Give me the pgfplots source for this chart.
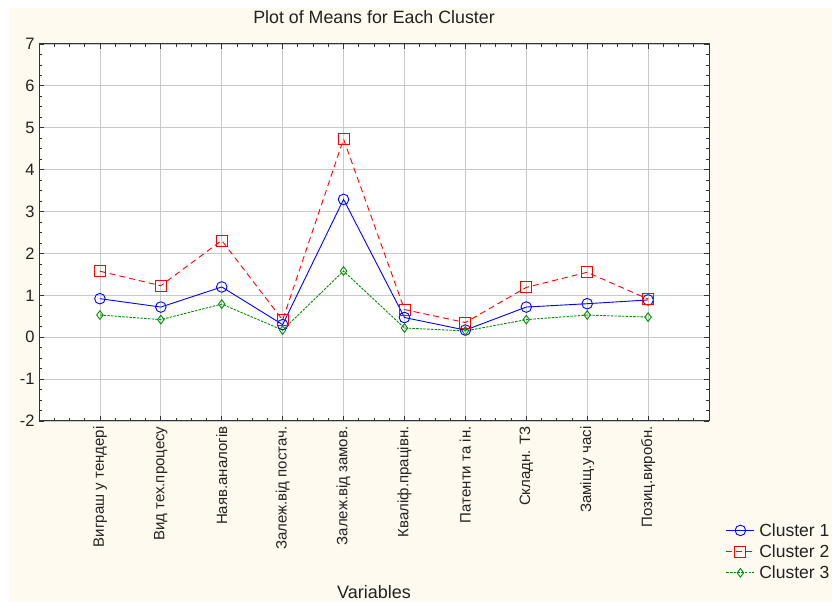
\documentclass[border=0pt]{standalone}
\usepackage{pgfplots}
\pgfplotsset{compat=1.18}
\usepackage{fontspec}
\setmainfont{Liberation Sans}
\definecolor{cream}{RGB}{255,250,240}
\definecolor{txt}{RGB}{34,34,34}
\definecolor{gridc}{RGB}{200,200,200}
\definecolor{cgreen}{RGB}{0,140,0}
\begin{document}
\begin{tikzpicture}[x=1bp,y=1bp]
\path[use as bounding box] (0,0) rectangle (832,603);
\clip (0,0) rectangle (832,603);
\fill[white] (0,0) rectangle (832,603);
\fill[cream] (9,2) rectangle (840,595);
\begin{axis}[
  at={(39bp,182bp)}, anchor=south west,
  scale only axis, width=670bp, height=377bp,
  xmin=0, xmax=11, ymin=-2, ymax=7,
  xtick={1,...,10},
  xticklabels={Виграш у тендері, Вид тех.процесу, Наяв.аналогів, Залеж.від постач., Залеж.від замов., Кваліф.працівн., Патенти та ін., Складн. ТЗ, Заміщ.у часі, Позиц.виробн.},
  ytick={-2,...,7},
  minor xtick={0,0.25,...,11},
  minor y tick num=3,
  xmajorgrids, ymajorgrids,
  major grid style={gridc, line width=0.8bp},
  major tick length=5bp, minor tick length=3bp,
  tick style={black!80, line width=0.8bp},
  axis line style={black!80, line width=1bp},
  axis background/.style={fill=white},
  tick align=inside,
  /pgf/number format/assume math mode=true,
  yticklabel style={font=\fontsize{16.5bp}{19bp}\selectfont, text=txt, xshift=-1bp},
  xticklabel style={font=\fontsize{15bp}{18bp}\selectfont, text=txt, rotate=90, anchor=east, xshift=-2bp},
  title={Plot of Means for Each Cluster},
  title style={font=\fontsize{17.8bp}{20bp}\selectfont, text=txt, at={(axis description cs:0.5,1)}, anchor=base, yshift=15bp},
  xlabel={Variables},
  xlabel style={font=\fontsize{18bp}{21bp}\selectfont, text=txt, inner sep=0bp, at={(axis description cs:0.5,0)}, anchor=base, yshift=-178bp},
  legend style={at={(axis description cs:1.025,-0.267)}, anchor=north west, draw=none, fill=none,
    font=\fontsize{17.5bp}{21bp}\selectfont, text=txt, row sep=4bp, inner sep=0bp,
    nodes={inner xsep=4.5bp, inner ysep=1.5bp}},
  legend cell align=left,
  legend image code/.code={\draw[mark repeat=2,mark phase=2,#1] plot coordinates {(0bp,0bp) (14bp,0bp) (28bp,0bp)};},
]
\addplot[blue, line width=0.9bp, mark=o, mark size=5.3bp, mark options={solid, fill=white}]
coordinates {(1,0.92) (2,0.72) (3,1.20) (4,0.30) (5,3.29) (6,0.47) (7,0.17) (8,0.72) (9,0.80) (10,0.89)};
\addlegendentry{Cluster 1}
\addplot[red, line width=0.9bp, dash pattern=on 6bp off 4bp, mark=square, mark size=5.5bp, mark options={solid, fill=white}]
coordinates {(1,1.575) (2,1.23) (3,2.31) (4,0.41) (5,4.73) (6,0.66) (7,0.35) (8,1.19) (9,1.55) (10,0.91)};
\addlegendentry{Cluster 2}
\addplot[cgreen, line width=0.9bp, dash pattern=on 2.5bp off 1.2bp, mark=diamond, mark size=4.3bp, mark options={solid, fill=white}]
coordinates {(1,0.53) (2,0.42) (3,0.79) (4,0.17) (5,1.58) (6,0.22) (7,0.15) (8,0.42) (9,0.53) (10,0.48)};
\addlegendentry{Cluster 3}
\end{axis}
\end{tikzpicture}
\end{document}
